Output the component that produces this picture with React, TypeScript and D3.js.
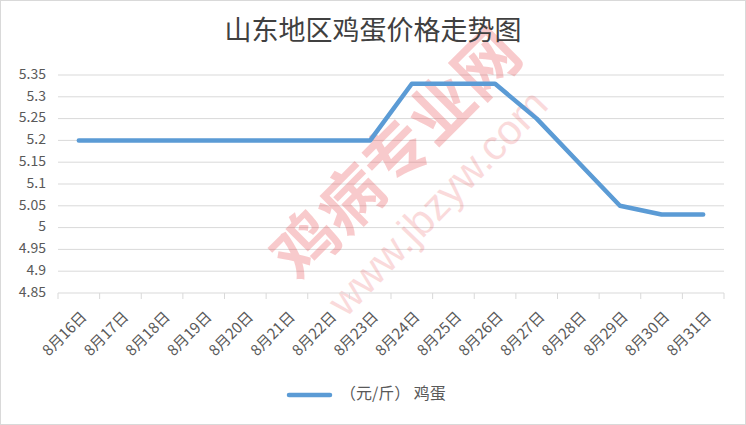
import * as d3 from "d3";
import React from "react";

const dates = [
  "8月16日", "8月17日", "8月18日", "8月19日", "8月20日", "8月21日", "8月22日", "8月23日",
  "8月24日", "8月25日", "8月26日", "8月27日", "8月28日", "8月29日", "8月30日", "8月31日",
];
const eggPrice = [5.2, 5.2, 5.2, 5.2, 5.2, 5.2, 5.2, 5.2, 5.33, 5.33, 5.33, 5.25, 5.15, 5.05, 5.03, 5.03];
const yTicks = [4.85, 4.9, 4.95, 5, 5.05, 5.1, 5.15, 5.2, 5.25, 5.3, 5.35];
const title = "山东地区鸡蛋价格走势图";
const seriesName = "（元/斤） 鸡蛋";

const W = 746;
const H = 425;
const margin = { top: 75, right: 22, bottom: 132, left: 58 };

export default function App() {
  const x = d3
    .scaleBand<string>()
    .domain(dates)
    .range([margin.left, W - margin.right])
    .padding(0);

  const y = d3
    .scaleLinear()
    .domain([4.85, 5.35])
    .range([H - margin.bottom, margin.top]);

  const line = d3
    .line<number>()
    .x((_, i) => x(dates[i])! + x.bandwidth() / 2)
    .y((d) => y(d));

  const axisY = H - margin.bottom;
  const boundaries = dates.map((d) => x(d)!).concat([W - margin.right]);

  return (
    <div style={{ position: "absolute", left: 0, top: 0 }}>
      <svg width={W} height={H} style={{ display: "block", fontFamily: "'Noto Sans CJK SC', 'Liberation Sans', sans-serif" }}>
        <rect x={0.5} y={0.5} width={W - 1} height={H - 1} fill="#fff" stroke="#d9d9d9" />

        {/* gridlines */}
        {yTicks.slice(1).map((t) => (
          <line key={t} x1={margin.left} x2={W - margin.right} y1={y(t)} y2={y(t)} stroke="#d9d9d9" strokeWidth={1} />
        ))}

        {/* watermark */}
        <g opacity={0.26} fill="#e8383d">
          <text
            transform="translate(400,158) rotate(-45)"
            textAnchor="middle"
            dominantBaseline="middle"
            fontSize={64}
            fontWeight="bold"
          >
            鸡病专业网
          </text>
          <text
            transform="translate(440,205) rotate(-46)"
            textAnchor="middle"
            dominantBaseline="middle"
            fontSize={42}
            fontFamily="'Liberation Sans', sans-serif"
            opacity={0.7}
          >
            www.jbzyw.com
          </text>
        </g>

        {/* x axis */}
        <line x1={margin.left} x2={W - margin.right} y1={axisY} y2={axisY} stroke="#d9d9d9" />
        {boundaries.map((b, i) => (
          <line key={i} x1={b} x2={b} y1={axisY} y2={axisY + 6} stroke="#d9d9d9" />
        ))}
        {dates.map((d) => (
          <text
            key={d}
            transform={`translate(${x(d)! + x.bandwidth() / 2 + 6},${axisY + 22}) rotate(-45)`}
            textAnchor="end"
            dominantBaseline="middle"
            fontSize={15}
            fill="#595959"
          >
            {d}
          </text>
        ))}

        {/* y axis labels */}
        {yTicks.map((t) => (
          <text
            key={t}
            x={46}
            y={y(t)}
            textAnchor="end"
            dominantBaseline="middle"
            fontSize={14}
            fill="#595959"
          >
            {String(t)}
          </text>
        ))}

        {/* series */}
        <path d={line(eggPrice)!} fill="none" stroke="#5b9bd5" strokeWidth={4.5} strokeLinejoin="round" strokeLinecap="round" />

        {/* title */}
        <text x={W / 2} y={33} textAnchor="middle" dominantBaseline="middle" fontSize={27} fill="#404040">
          {title}
        </text>

        {/* legend */}
        <line x1={289} x2={330} y1={395} y2={395} stroke="#5b9bd5" strokeWidth={4.5} strokeLinecap="round" />
        <text x={340} y={395} dominantBaseline="middle" fontSize={16} fill="#595959">
          {seriesName}
        </text>
      </svg>
    </div>
  );
}
